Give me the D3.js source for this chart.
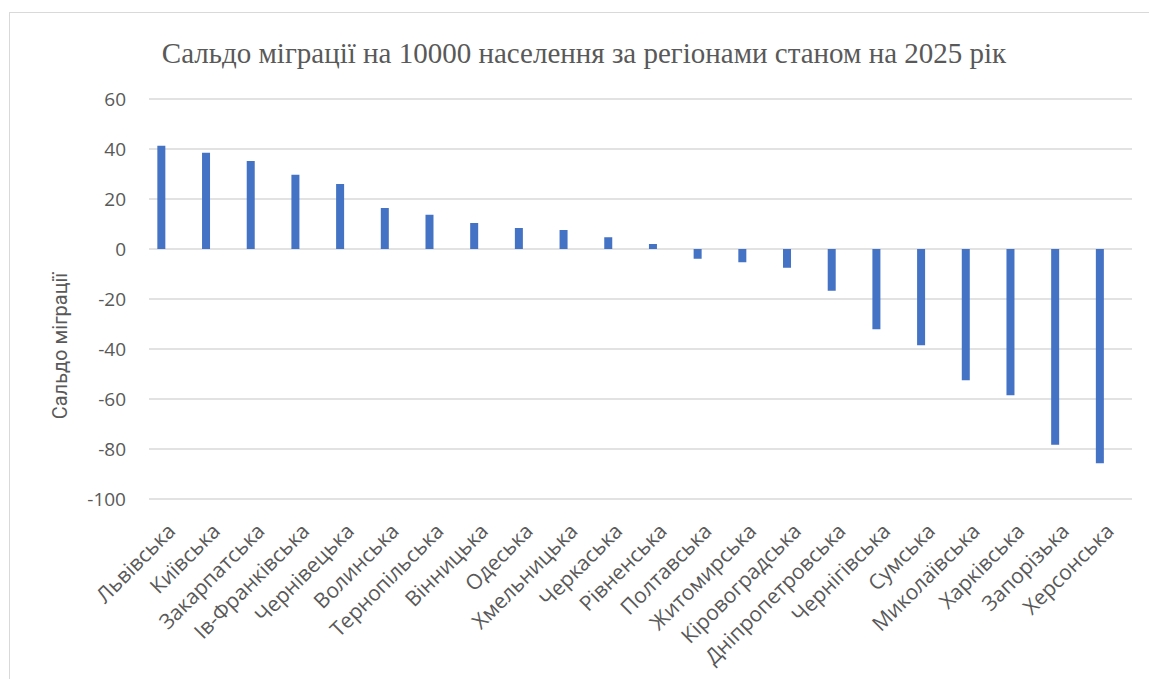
<!DOCTYPE html>
<html>
<head>
<meta charset="utf-8">
<script src="https://cdn.jsdelivr.net/npm/d3@7"></script>
<style>
  html, body { margin: 0; padding: 0; background: #fff; }
  svg { display: block; }
</style>
</head>
<body>
<svg id="chart" width="1149" height="679"></svg>
<script>
const categories = ["Львівська","Київська","Закарпатська","Ів-Франківська","Чернівецька","Волинська","Тернопільська","Вінницька","Одеська","Хмельницька","Черкаська","Рівненська","Полтавська","Житомирська","Кіровоградська","Дніпропетровська","Чернігівська","Сумська","Миколаївська","Харківська","Запорізька","Херсонська"];
const values = [41.3, 38.5, 35.2, 29.7, 26.0, 16.4, 13.7, 10.4, 8.4, 7.6, 4.7, 2.0, -3.9, -5.3, -7.5, -16.7, -32.1, -38.5, -52.5, -58.5, -78.3, -85.7];
const yTicks = [60, 40, 20, 0, -20, -40, -60, -80, -100];
const title = "Сальдо міграції на 10000 населення за регіонами станом на 2025 рік";
const yTitle = "Сальдо міграції";

const svg = d3.select("#chart");
const textColor = "#595959";

// outer chart border
svg.append("rect")
  .attr("x", 9.5).attr("y", 12.5)
  .attr("width", 1160).attr("height", 700)
  .attr("fill", "none").attr("stroke", "#d9d9d9").attr("stroke-width", 1);

const y = d3.scaleLinear().domain([-100, 60]).range([499, 99]);
const x = d3.scaleBand().domain(categories).range([139, 1122.2]).padding(0);
const gridX0 = 149, gridX1 = 1132;
const barW = 8;

// gridlines
svg.append("g").selectAll("line").data(yTicks).join("line")
  .attr("x1", gridX0).attr("x2", gridX1)
  .attr("y1", d => y(d)).attr("y2", d => y(d))
  .attr("stroke", "#d9d9d9").attr("stroke-width", 1.5);

// y tick labels
const yAxis = d3.axisLeft(y).tickValues(yTicks).tickSize(0).tickPadding(0)
  .tickFormat(d => String(d));
const gy = svg.append("g").attr("transform", "translate(126,0)").call(yAxis);
gy.select(".domain").remove();
gy.selectAll("text")
  .attr("fill", textColor)
  .style("font-family", "'Open Sans', sans-serif")
  .style("font-size", "19px");

// bars
svg.append("g").selectAll("rect").data(values).join("rect")
  .attr("x", (d, i) => x(categories[i]) + x.bandwidth() / 2 - barW / 2)
  .attr("width", barW)
  .attr("y", d => y(Math.max(0, d)))
  .attr("height", d => Math.abs(y(d) - y(0)))
  .attr("fill", "#4472C4");

// category labels
svg.append("g").selectAll("text").data(categories).join("text")
  .attr("transform", d => `translate(${x(d) + x.bandwidth() / 2 + 5},${522}) rotate(-45)`)
  .attr("text-anchor", "end")
  .attr("dy", "0.7em")
  .attr("fill", textColor)
  .style("font-family", "'Open Sans', sans-serif")
  .style("font-size", "21px")
  .text(d => d);

// title
svg.append("text")
  .attr("x", 584).attr("y", 63)
  .attr("text-anchor", "middle")
  .attr("fill", textColor)
  .style("font-family", "'Liberation Serif', 'Times New Roman', serif")
  .style("font-size", "29px")
  .text(title);

// y axis title
svg.append("text")
  .attr("transform", "translate(67,346) rotate(-90)")
  .attr("text-anchor", "middle")
  .attr("fill", textColor)
  .style("font-family", "Roboto, sans-serif")
  .style("font-size", "20px")
  .text(yTitle);
</script>
</body>
</html>
